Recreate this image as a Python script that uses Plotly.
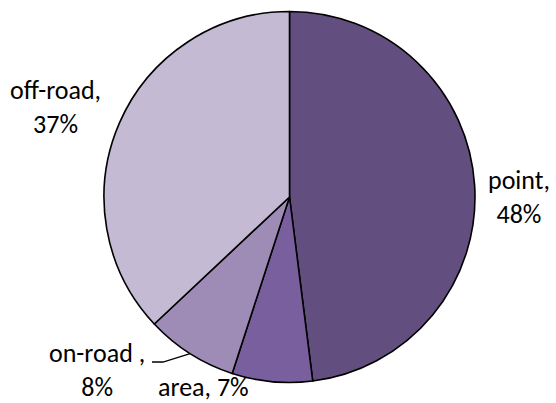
import math
import plotly.graph_objects as go

categories = ["point", "area", "on-road ", "off-road"]
values = [48, 7, 8, 37]
colors = ["#624F7F", "#7A5F9F", "#9E8BB6", "#C4BAD4"]

W, H = 556, 403
cx, cy, R = 289.5, 197, 185.5

fig = go.Figure(go.Pie(
    labels=categories,
    values=values,
    sort=False,
    direction="clockwise",
    rotation=0,
    textinfo="none",
    hoverinfo="label+percent",
    marker=dict(colors=colors, line=dict(color="#000000", width=1.6)),
    domain=dict(x=[(cx - R) / W, (cx + R) / W], y=[(H - cy - R) / H, (H - cy + R) / H]),
    showlegend=False,
))

font = dict(family="Carlito, Lato, Liberation Sans, sans-serif", size=26, color="#000000")

def px(x):
    return x / W

def py(y):
    return 1 - y / H

label_pos = {
    "point": (519, 197),
    "area": (203, 387),
    "on-road ": (97, 370),
    "off-road": (55, 107),
}
total = sum(values)
for c, v in zip(categories, values):
    pct = round(100 * v / total)
    if c == "area":
        txt = f"{c}, {pct}%"
    else:
        txt = f"{c},<br>{pct}%"
    x, y = label_pos[c]
    fig.add_annotation(x=px(x), y=py(y), xref="paper", yref="paper", text=txt,
                       showarrow=False, font=font, align="center",
                       xanchor="center", yanchor="middle")

# leader line for on-road: to pie edge at slice mid-angle
start = sum(values[:2])
mid = (start + values[2] / 2) / total * 2 * math.pi
ex = cx + R * math.sin(mid)
ey = cy - R * math.cos(mid)
fig.add_shape(type="path", xref="paper", yref="paper",
              path=f"M {px(152)} {py(362)} L {px(163)} {py(362)} L {px(ex)} {py(ey)}",
              line=dict(color="#000000", width=1.3))

fig.update_layout(width=W, height=H, margin=dict(l=0, r=0, t=0, b=0),
                  paper_bgcolor="#FFFFFF", plot_bgcolor="#FFFFFF", autosize=False)
fig.write_html("out.html")
